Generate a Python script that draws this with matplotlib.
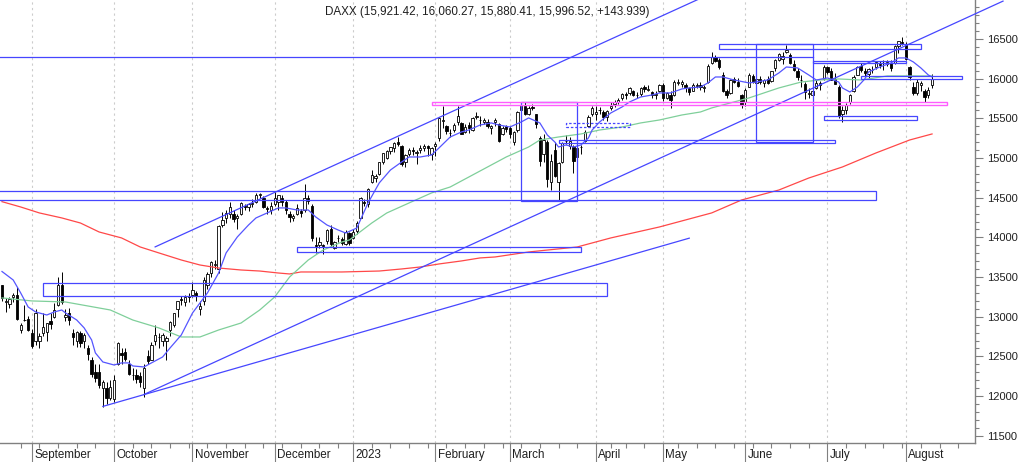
import numpy as np
import pandas as pd
import matplotlib
matplotlib.use('Agg')
import matplotlib.pyplot as plt
from matplotlib.patches import Rectangle

plt.rcParams['font.family'] = ['Liberation Sans', 'DejaVu Sans']

# trading calendar (Xetra holidays removed)
holidays = ['2022-12-26', '2023-04-07', '2023-04-10', '2023-05-01']
days = pd.bdate_range('2022-08-22', '2023-09-29')
days = days[~days.isin(pd.to_datetime(holidays))]

title = 'DAXX (15,921.42, 16,060.27, 15,880.41, 15,996.52, +143.939)'
month_labels = ['September', 'October', 'November', 'December', '2023', 'February',
                'March', 'April', 'May', 'June', 'July', 'August']

# daily OHLC, Aug 22 2022 .. Aug 10 2023
opens = [
    13400, 13190, 13160, 13250, 13270, 12830, 12960, 12970,
    12800, 12700, 12700, 12800, 12810, 12950, 13000, 13150, 13400, 13000, 13050, 12800, 12700, 12800, 12700, 12600, 12450, 12300, 12300, 12100, 12100, 11980,
    11960, 12400, 12540, 12560, 12400, 12260, 12260, 12250, 12100, 12500, 12450, 12700, 12750, 12700, 12700, 12830, 12900, 13100, 13220, 13180, 13260,
    13280, 13300, 13100, 13200, 13400, 13550, 13650, 13600, 14150, 14250, 14300, 14300, 14250, 14300, 14400, 14380, 14420, 14450, 14530, 14500, 14370, 14350,
    14420, 14440, 14500, 14450, 14300, 14240, 14300, 14330, 14350, 14500, 14400, 13900, 13900, 13900, 13950, 14100, 13860, 13990, 13980, 13920, 14050,
    13990, 14080, 14250, 14450, 14420, 14700, 14750, 14800, 14950, 15000, 15090, 15130, 15200, 15150, 14950, 15050, 15100, 15060, 15100, 15130, 15150, 15050,
    15150, 15250, 15470, 15400, 15320, 15350, 15450, 15440, 15330, 15410, 15350, 15520, 15480, 15460, 15460, 15380, 15450, 15430, 15300, 15400,
    15380, 15200, 15350, 15600, 15650, 15560, 15640, 15550, 15250, 15050, 15200, 14700, 15100, 14700, 14950, 15220, 15150, 15140, 15010, 15140, 15220, 15400, 15560,
    15550, 15600, 15580, 15520, 15630, 15680, 15700, 15750, 15810, 15820, 15840, 15790, 15810, 15890, 15860, 15830, 15790, 15850,
    15920, 15760, 15800, 15800, 15950, 15930, 15920, 15880, 15850, 15910, 15920, 15880, 15960, 16200, 16270, 16230, 16050, 15850, 15820, 16000, 15960, 15800,
    15700, 15900, 16030, 15950, 15990, 15940, 15990, 15970, 16130, 16240, 16250, 16330, 16300, 16180, 16100, 15980, 15930, 15810, 15800, 15880, 15920, 15990,
    16150, 16100, 16000, 15900, 15560, 15600, 15700, 15850, 16050, 16160, 16100, 16060, 16110, 16150, 16190, 16200, 16190, 16200, 16200, 16410, 16460,
    16420, 16150, 15900, 15820, 15920, 15850, 15800, 15921,
]
highs = [
    13404, 13240, 13250, 13300, 13380, 12920, 13150, 13010,
    12850, 13100, 12800, 13050, 12920, 13050, 13170, 13500, 13569, 13100, 13110, 12850, 12820, 12820, 12790, 12640, 12490, 12400, 12400, 12200, 12180, 12200,
    12270, 12680, 12610, 12600, 12450, 12350, 12340, 12300, 12400, 12580, 12680, 12900, 12800, 12800, 12760, 12950, 13050, 13200, 13260, 13270, 13300,
    13440, 13330, 13200, 13500, 13560, 13700, 13720, 14150, 14320, 14350, 14450, 14350, 14300, 14450, 14420, 14430, 14480, 14560, 14560, 14520, 14400, 14450,
    14570, 14540, 14530, 14470, 14330, 14300, 14420, 14360, 14675, 14530, 14420, 14000, 14000, 13920, 14110, 14150, 13960, 14030, 14000, 14090, 14070,
    14100, 14210, 14510, 14480, 14620, 14850, 14800, 14950, 15060, 15100, 15140, 15200, 15270, 15160, 15050, 15130, 15140, 15100, 15170, 15180, 15170, 15140,
    15200, 15520, 15660, 15420, 15370, 15440, 15650, 15460, 15430, 15450, 15520, 15580, 15530, 15500, 15490, 15420, 15500, 15440, 15400, 15420,
    15400, 15340, 15590, 15680, 15700, 15650, 15680, 15560, 15280, 15300, 15230, 15050, 15200, 14950, 15200, 15290, 15260, 15160, 15140, 15170, 15350, 15540, 15660,
    15650, 15640, 15600, 15610, 15700, 15730, 15750, 15820, 15830, 15890, 15860, 15830, 15890, 15920, 15920, 15850, 15840, 15930,
    15950, 15830, 15850, 15980, 15990, 15980, 15950, 15900, 15950, 15950, 15960, 15920, 16180, 16330, 16300, 16260, 16080, 15870, 15990, 16020, 16010, 15810,
    15880, 16070, 16060, 16000, 16030, 16000, 16030, 16100, 16250, 16320, 16340, 16430, 16320, 16230, 16140, 16040, 15960, 15880, 15880, 15980, 15970, 16170,
    16160, 16130, 16070, 15920, 15650, 15690, 15810, 16050, 16160, 16200, 16130, 16130, 16160, 16220, 16220, 16230, 16230, 16230, 16420, 16480, 16530,
    16460, 16160, 15960, 15990, 15970, 15870, 15900, 16060,
]
lows = [
    13200, 13062, 13110, 13190, 12960, 12800, 12950, 12820,
    12600, 12650, 12600, 12760, 12700, 12840, 12990, 13140, 13160, 12950, 12900, 12650, 12620, 12620, 12600, 12450, 12240, 12180, 12100, 11863, 11900, 11950,
    11930, 12390, 12400, 12440, 12260, 12200, 12170, 12120, 11990, 12400, 12450, 12650, 12600, 12630, 12460, 12760, 12870, 13000, 13150, 13140, 13180,
    13250, 13200, 13020, 13150, 13350, 13500, 13600, 13550, 14130, 14180, 14250, 14200, 14100, 14280, 14350, 14330, 14380, 14430, 14500, 14370, 14300, 14300,
    14400, 14340, 14400, 14300, 14200, 14210, 14280, 14260, 14320, 14420, 13960, 13800, 13860, 13790, 13920, 13880, 13850, 13940, 13900, 13900, 13900,
    13980, 14040, 14240, 14390, 14380, 14690, 14700, 14790, 14920, 14990, 15050, 15080, 15150, 14900, 14890, 15020, 15040, 14930, 15060, 15090, 15030, 14980,
    15020, 15220, 15380, 15300, 15260, 15330, 15420, 15300, 15320, 15320, 15340, 15490, 15400, 15430, 15380, 15300, 15400, 15200, 15290, 15330,
    15250, 15170, 15330, 15590, 15540, 15540, 15600, 15380, 14900, 14950, 14640, 14600, 14760, 14460, 14940, 15180, 15110, 14810, 14960, 15050, 15200, 15390, 15530,
    15480, 15550, 15480, 15470, 15610, 15640, 15680, 15730, 15740, 15800, 15780, 15750, 15780, 15830, 15840, 15760, 15740, 15830,
    15720, 15740, 15630, 15780, 15920, 15890, 15830, 15790, 15840, 15880, 15860, 15830, 15950, 16190, 16210, 16120, 15830, 15760, 15810, 15940, 15890, 15630,
    15660, 15890, 15950, 15880, 15930, 15900, 15930, 15960, 16100, 16220, 16180, 16320, 16190, 16100, 15980, 15900, 15740, 15760, 15730, 15870, 15860, 15980,
    16060, 15980, 15930, 15500, 15460, 15560, 15680, 15830, 16040, 16080, 16030, 16010, 16070, 16120, 16130, 16110, 16160, 16100, 16180, 16320, 16430,
    16230, 15980, 15800, 15800, 15840, 15700, 15760, 15880,
]
closes = [
    13230, 13194, 13220, 13272, 12971, 12893, 12961, 12835,
    12631, 13050, 12761, 12871, 12916, 12904, 13088, 13402, 13189, 13028, 12956, 12741, 12803, 12671, 12767, 12532, 12284, 12228, 12139, 12183, 11976, 12114,
    12209, 12671, 12517, 12471, 12273, 12272, 12220, 12172, 12355, 12438, 12649, 12766, 12742, 12767, 12731, 12931, 13053, 13196, 13211, 13243, 13253,
    13338, 13257, 13130, 13459, 13533, 13689, 13666, 14146, 14224, 14313, 14378, 14234, 14266, 14431, 14380, 14422, 14428, 14539, 14541, 14383, 14355, 14397,
    14490, 14529, 14448, 14343, 14261, 14264, 14371, 14306, 14497, 14460, 13987, 13893, 13943, 13885, 14098, 13914, 13940, 13995, 13926, 14071, 13924,
    14069, 14181, 14490, 14436, 14610, 14792, 14775, 14947, 15058, 15087, 15134, 15187, 15181, 14920, 15033, 15103, 15093, 15082, 15132, 15150, 15126, 15128,
    15181, 15509, 15476, 15346, 15321, 15412, 15524, 15308, 15397, 15380, 15507, 15534, 15482, 15477, 15398, 15400, 15475, 15210, 15381, 15365,
    15305, 15328, 15578, 15654, 15560, 15631, 15633, 15428, 14959, 15233, 14735, 14967, 14768, 14933, 15195, 15216, 15210, 14957, 15128, 15142, 15329, 15522, 15629,
    15581, 15603, 15520, 15598, 15655, 15703, 15729, 15808, 15790, 15883, 15796, 15795, 15882, 15864, 15872, 15796, 15801, 15922,
    15760, 15815, 15734, 15961, 15952, 15955, 15897, 15834, 15914, 15917, 15897, 15898, 16163, 16275, 16224, 16152, 15842, 15793, 15983, 15953, 15909, 15664,
    15853, 16051, 15964, 15992, 15960, 15989, 15950, 16098, 16230, 16310, 16290, 16358, 16201, 16111, 16023, 15988, 15830, 15813, 15846, 15949, 15946, 16148,
    16081, 15989, 15938, 15529, 15603, 15673, 15790, 16023, 16141, 16106, 16069, 16125, 16108, 16204, 16177, 16191, 16211, 16131, 16407, 16469, 16447,
    16250, 16020, 15814, 15952, 15951, 15775, 15853, 15997,
]

# moving averages (trading-day number, value)
blue_ma_day = [0, 3, 5, 7, 9, 12, 14, 16, 17, 20, 22, 24, 25, 27, 30, 32, 34, 35, 38, 40,
               43, 45, 48, 51, 55, 58, 60, 63, 66, 68, 71, 74, 76, 79, 82, 84, 87, 90, 92, 95,
               98, 101, 104, 107, 109, 112, 115, 117, 120, 123, 125, 128, 131, 133, 136, 139, 141, 144, 146, 148,
               149, 151, 153, 155, 157, 158, 160, 163, 166, 168, 171, 174, 176, 179, 182, 184, 187, 189, 191, 193,
               196, 200, 202, 205, 208, 210, 213, 216, 218, 221, 224, 225, 227, 229, 231, 232, 235, 238, 240, 242,
               244, 246, 248, 249]
blue_ma = [13570, 13463, 13300, 13123, 13060, 13022, 13060, 13085, 13048, 12959,
           12859, 12707, 12544, 12430, 12392, 12418, 12418, 12380, 12367, 12418,
           12493, 12607, 12770, 13047, 13300, 13552, 13804, 14005, 14156, 14245,
           14308, 14371, 14371, 14345, 14345, 14257, 14156, 14093, 14055, 14118,
           14434, 14686, 14849, 14950, 15013, 15013, 15038, 15127, 15265, 15328,
           15353, 15416, 15442, 15416, 15391, 15454, 15505, 15442, 15290, 15202,
           15139, 15164, 15139, 15164, 15253, 15353, 15454, 15568, 15643, 15706,
           15769, 15794, 15820, 15820, 15870, 15883, 15895, 15946, 16021, 16021,
           15983, 15946, 15958, 15983, 16072, 16147, 16135, 16046, 15983, 16009,
           15958, 15883, 15832, 15895, 15996, 16084, 16147, 16197, 16261, 16261,
           16210, 16135, 16046, 16021]

green_ma_day = [0, 8, 17, 29, 35, 42, 48, 53, 58, 64, 69, 73, 77, 82, 86, 91, 93, 99, 103, 109,
                115, 120, 125, 130, 135, 141, 144, 149, 155, 160, 166, 171, 176, 182, 187, 190, 200, 208, 214, 219,
                224, 230, 237, 242, 249]
green_ma = [13237, 13199, 13186, 13085, 12959, 12859, 12745, 12745, 12833, 12921,
            13085, 13249, 13501, 13715, 13841, 13942, 13967, 14181, 14307, 14434,
            14560, 14635, 14761, 14887, 15013, 15139, 15227, 15265, 15303, 15353,
            15391, 15442, 15479, 15542, 15580, 15631, 15757, 15883, 15958, 15983,
            15996, 15983, 16034, 16034, 16034]

red_ma_day = [0, 5, 10, 16, 21, 26, 32, 37, 42, 48, 53, 58, 64, 69, 74, 77, 80, 91, 101, 107,
              112, 117, 123, 128, 132, 141, 154, 163, 176, 190, 198, 208, 216, 225, 234, 243, 249]
red_ma = [14450, 14383, 14308, 14245, 14181, 14068, 13993, 13879, 13804, 13715,
          13652, 13614, 13589, 13576, 13551, 13539, 13564, 13564, 13576, 13602,
          13627, 13665, 13703, 13741, 13753, 13816, 13879, 13993, 14131, 14308,
          14471, 14597, 14748, 14887, 15064, 15227, 15303]

# drawn trendlines: (start day, start price, end day, end price)
trend_d0 = [41, 38, 27]
trend_p0 = [13880, 12020, 11870]
trend_d1 = [200, 268, 184]
trend_p1 = [17291, 16977, 13990]

# drawn boxes: day range and price range
box_d0 = [11, -5, 79, 139, 149, 202, 192, 217, 230, 220]
box_d1 = [162, 234, 155, 154, 223, 217, 246, 242, 257, 245]
box_lo = [13262, 14471, 13813, 14459, 15190, 15202, 16374, 16191, 15996, 15479]
box_hi = [13426, 14585, 13883, 15706, 15222, 16437, 16437, 16223, 16034, 15530]
dash_box = [151, 168, 15391, 15442]
pink_box = [115, 253, 15665, 15710]
hline = [-5, 217, 16273]

o = np.array(opens)
h = np.array(highs)
l = np.array(lows)
c = np.array(closes)
x = np.arange(len(c))

fig = plt.figure(figsize=(10.24, 4.62), dpi=100)
ax = fig.add_axes([0, 19 / 462, 975 / 1024, 443 / 462])

blue = '#4646ff'
grey = '#808080'

# candles
ax.vlines(x, l, h, color='black', lw=0.7, zorder=3)
faces = np.where(c >= o, 'white', 'black')
ax.bar(x, np.abs(c - o), bottom=np.minimum(o, c), width=0.62, color=faces,
       edgecolor='black', linewidth=0.6, zorder=4)

# moving averages
ax.plot(red_ma_day, red_ma, color='#ff4848', lw=0.9, zorder=5)
ax.plot(green_ma_day, green_ma, color='#7fcf9a', lw=0.9, zorder=5)
ax.plot(blue_ma_day, blue_ma, color='#5555ff', lw=0.9, zorder=5)

# trendlines
for d0, p0, d1, p1 in zip(trend_d0, trend_p0, trend_d1, trend_p1):
    ax.plot([d0, d1], [p0, p1], color=blue, lw=0.9, zorder=6, clip_on=(d1 < 260))

# boxes
for d0, d1, lo, hi in zip(box_d0, box_d1, box_lo, box_hi):
    ax.add_patch(Rectangle((d0, lo), d1 - d0, hi - lo, fill=False,
                           edgecolor=blue, lw=0.9, zorder=6))
ax.add_patch(Rectangle((dash_box[0], dash_box[2]), dash_box[1] - dash_box[0],
                       dash_box[3] - dash_box[2], fill=False, edgecolor=blue,
                       lw=0.9, ls=(0, (2, 1.5)), zorder=6))
ax.add_patch(Rectangle((pink_box[0], pink_box[2]), pink_box[1] - pink_box[0],
                       pink_box[3] - pink_box[2], fill=False, edgecolor='#ff5cff',
                       lw=1.0, zorder=6))
ax.plot([hline[0], hline[1]], [hline[2], hline[2]], color=blue, lw=0.9, zorder=6)

ax.set_xlim(-0.535, 260.5)
ax.set_ylim(11409, 16991)

# x axis: month starts + weekly ticks
month_start = []
for y_, m_ in [(2022, 9), (2022, 10), (2022, 11), (2022, 12), (2023, 1), (2023, 2),
               (2023, 3), (2023, 4), (2023, 5), (2023, 6), (2023, 7), (2023, 8)]:
    month_start.append(int(np.argmax((days.year == y_) & (days.month == m_))))
weeks = days.to_period('W')
week_start = [i for i in range(1, 261) if weeks[i] != weeks[i - 1] and i not in month_start]

ax.set_xticks(month_start)
ax.set_xticklabels([])
ax.set_xticks(week_start, minor=True)
ax.tick_params(axis='x', which='major', length=14, color=grey, width=0.8)
ax.tick_params(axis='x', which='minor', length=3.5, color=grey, width=0.8)
ax.grid(axis='x', which='major', color='#cccccc', ls=(0, (2, 3)), lw=0.8)
for pos, lab in zip(month_start, month_labels):
    ax.text(pos + 0.6, -0.027, lab, transform=ax.get_xaxis_transform(),
            ha='left', va='center', fontsize=8.4, color='#202020')

# y axis on the right
ax.yaxis.tick_right()
ax.set_yticks(np.arange(11500, 16501, 500))
ax.set_yticks(np.arange(11500, 16901, 100), minor=True)
ax.tick_params(axis='y', which='major', length=6, color=grey, width=0.8,
               labelsize=8, labelcolor='#202020', pad=3)
ax.tick_params(axis='y', which='minor', length=3, color=grey, width=0.8)

for s in ['top', 'left']:
    ax.spines[s].set_visible(False)
for s in ['right', 'bottom']:
    ax.spines[s].set_color(grey)
    ax.spines[s].set_linewidth(1.0)

ax.text(0.5, 0.973, title, transform=ax.transAxes, ha='center', va='center',
        fontsize=8.4, color='#202020')

fig.savefig('out.png', dpi=100)
